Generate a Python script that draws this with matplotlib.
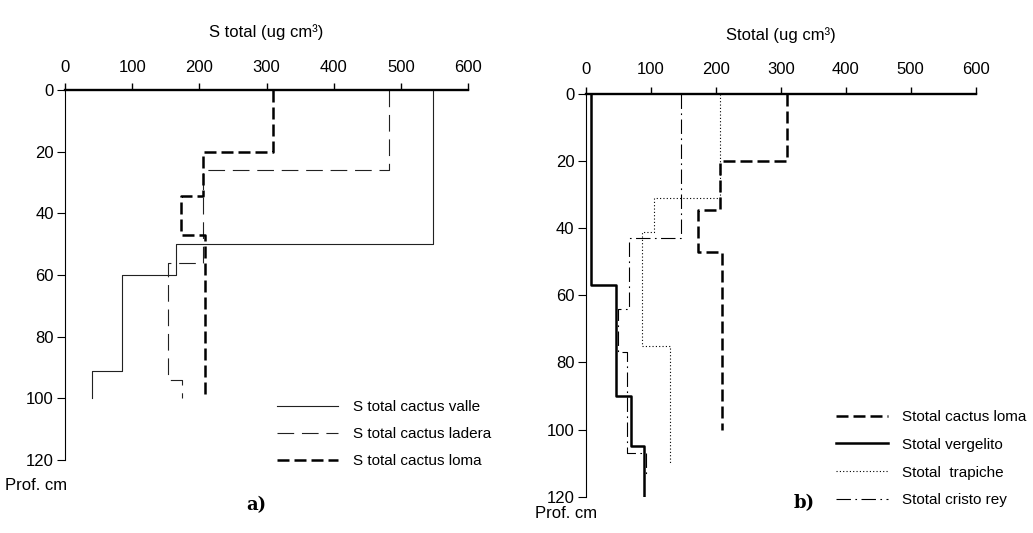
import matplotlib
matplotlib.use("Agg")
import matplotlib.pyplot as plt
import numpy as np

plt.rcParams['font.family'] = ['Liberation Sans', 'DejaVu Sans']
plt.rcParams['font.size'] = 12

# depth breaks (cm) and S total per layer (ug cm-3)
valle_depth = [0, 50, 60, 91, 100]
valle_s = [548, 165, 85, 40]
ladera_depth = [0, 26, 56, 94, 100]
ladera_s = [483, 206, 154, 174]
loma_depth = [0, 20, 34.5, 47, 100]
loma_s = [310, 206, 172, 209]

vergelito_depth = [0, 57, 90, 105, 120]
vergelito_s = [8, 47, 70, 90]
trapiche_depth = [0, 31, 41, 75, 110]
trapiche_s = [206, 105, 86, 130]
cristo_depth = [0, 43, 64, 77, 107, 114]
cristo_s = [147, 66, 50, 63, 93]

x_ticks = [0, 100, 200, 300, 400, 500, 600]
y_ticks = [0, 20, 40, 60, 80, 100, 120]


def profile(depth, s):
    xs = np.repeat(s, 2)
    ys = np.concatenate([[depth[0]], np.repeat(depth[1:-1], 2), [depth[-1]]])
    return xs, ys


def style_axis(ax, title, pad):
    ax.set_xlim(0, 600)
    ax.set_ylim(120, 0)
    ax.spines['bottom'].set_visible(False)
    ax.spines['right'].set_visible(False)
    ax.spines['top'].set_linewidth(1.7)
    ax.spines['left'].set_linewidth(0.8)
    ax.xaxis.set_ticks_position('top')
    ax.xaxis.set_label_position('top')
    ax.set_xticks(x_ticks)
    ax.set_yticks(y_ticks)
    ax.tick_params(axis='x', direction='out', length=5, width=1, pad=pad)
    ax.tick_params(axis='y', direction='out', length=6, width=0.8, pad=2)
    ax.set_xlabel(title, labelpad=16)
    ax.patch.set_visible(False)


W, H = 1033, 533
fig = plt.figure(figsize=(W / 100, H / 100), dpi=100)

ax1 = fig.add_axes([65 / W, 1 - 460 / H, 403 / W, 370 / H])
ax2 = fig.add_axes([585.7 / W, 1 - 496.7 / H, 390 / W, 402.7 / H])

# panel a
ax1.plot(*profile(valle_depth, valle_s), color='#222222', lw=0.8,
         label='S total cactus valle')
ax1.plot(*profile(ladera_depth, ladera_s), color='#222222', lw=0.8,
         linestyle=(0, (15, 7)), label='S total cactus ladera')
ax1.plot(*profile(loma_depth, loma_s), color='black', lw=1.8,
         linestyle=(0, (4.8, 2)), label='S total cactus loma')
style_axis(ax1, 'S total (ug cm³)', 6)

ax1.legend(loc='upper left', bbox_to_anchor=(277 / W, 1 - 400 / H),
           bbox_transform=fig.transFigure, frameon=False, borderpad=0,
           borderaxespad=0, handlelength=4.0, handletextpad=1.0,
           labelspacing=0.85, fontsize=11)

# panel b
ax2.plot(*profile(loma_depth, loma_s), color='black', lw=1.8,
         linestyle=(0, (4.8, 2)), label='Stotal cactus loma')
ax2.plot(*profile(vergelito_depth, vergelito_s), color='black', lw=1.8,
         label='Stotal vergelito')
ax2.plot(*profile(trapiche_depth, trapiche_s), color='black', lw=0.8,
         linestyle=(0, (1, 2)), label='Stotal  trapiche')
ax2.plot(*profile(cristo_depth, cristo_s), color='black', lw=0.8,
         linestyle=(0, (13, 4, 1.5, 4)), label='Stotal cristo rey')
style_axis(ax2, 'Stotal (ug cm³)', 7)

ax2.legend(loc='upper left', bbox_to_anchor=(836 / W, 1 - 410 / H),
           bbox_transform=fig.transFigure, frameon=False, borderpad=0,
           borderaxespad=0, handlelength=3.4, handletextpad=0.95,
           labelspacing=0.9, fontsize=11)

fig.text(5 / W, 1 - 486 / H, 'Prof. cm', fontsize=12, va='center', ha='left')
fig.text(535 / W, 1 - 514 / H, 'Prof. cm', fontsize=12, va='center', ha='left')
fig.text(256 / W, 1 - 505 / H, 'a)', fontsize=13, fontweight='bold',
         family='DejaVu Serif', va='center', ha='center')
fig.text(804 / W, 1 - 503 / H, 'b)', fontsize=13, fontweight='bold',
         family='DejaVu Serif', va='center', ha='center')

fig.savefig('out.png', dpi=100)
